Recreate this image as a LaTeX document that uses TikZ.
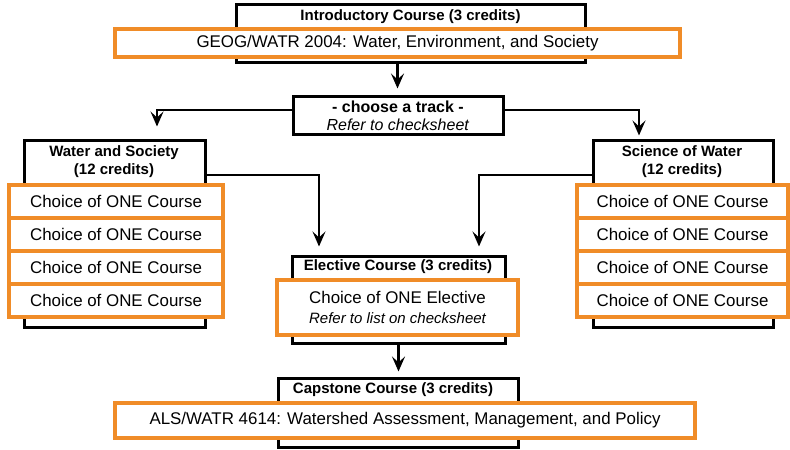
\documentclass[tikz,border=0pt]{standalone}
\usepackage{fontspec}
\setmainfont{Liberation Sans}
\usetikzlibrary{arrows.meta}
\definecolor{orng}{RGB}{240,140,40}
\begin{document}
\begin{tikzpicture}[x=1bp,y=-1bp,
 blackbox/.style={draw=black, line width=3bp, fill=white, inner sep=0pt},
 orangebox/.style={draw=orng, line width=3.5bp, fill=white, inner sep=0pt, font=\fontsize{16.9bp}{20bp}\selectfont, align=center},
 titletext/.style={font=\fontsize{15bp}{18bp}\selectfont\bfseries, align=center, inner sep=0pt},
 arr/.style={line width=2.7bp, -{Stealth[length=15bp,width=13bp,inset=6bp]}}]
\useasboundingbox (0,0) rectangle (790,450);
% intro
\node[blackbox, minimum width=349bp, minimum height=58bp] (intro) at (410.5,34) {};
\node[titletext] (introt) at (410.5,17) {Introductory Course (3 credits)};
\node[orangebox, minimum width=565bp, minimum height=28bp] (introc) at (397.5,43) {GEOG/WATR 2004: Water, Environment, and Society};
% choose
\node[blackbox, minimum width=210bp, minimum height=38bp, align=center, font=\fontsize{16bp}{18bp}\selectfont] (choose) at (398,116) {\textbf{- choose a track -}\\\textit{Refer to checksheet}};
% left track
\node[blackbox, minimum width=180bp, minimum height=186bp] (ws) at (115,234) {};
\node[titletext] (wst) at (114,162) {Water and Society\\(12 credits)};
\foreach \i/\y in {1/201.5,2/234.5,3/267.5,4/300.5}
  \node[orangebox, minimum width=214bp, minimum height=33bp] (ws\i) at (116,\y) {Choice of ONE Course};
% right track
\node[blackbox, minimum width=180bp, minimum height=186bp] (sw) at (683,234) {};
\node[titletext] (swt) at (682,162) {Science of Water\\(12 credits)};
\foreach \i/\y in {1/201.5,2/234.5,3/267.5,4/300.5}
  \node[orangebox, minimum width=211bp, minimum height=33bp] (sw\i) at (682.5,\y) {Choice of ONE Course};
% elective
\node[blackbox, minimum width=213bp, minimum height=86bp] (elec) at (398.5,300) {};
\node[titletext] (elect) at (398,267) {Elective Course (3 credits)};
\node[orangebox, minimum width=241bp, minimum height=55bp] (elecc) at (397.5,307.5) {Choice of ONE Elective\\{\fontsize{15bp}{18bp}\selectfont\itshape Refer to list on checksheet}};
% capstone
\node[blackbox, minimum width=240bp, minimum height=68bp] (cap) at (398,413) {};
\node[titletext] (capt) at (393,390) {Capstone Course (3 credits)};
\node[orangebox, minimum width=580bp, minimum height=35bp] (capc) at (405,420.5) {ALS/WATR 4614: Watershed Assessment, Management, and Policy};
% connectors
\draw[arr, shorten >=7bp] (introc.south |- intro.south) -- (introc.south |- choose.north);
\draw[arr, shorten >=13bp] ([yshift=6bp]choose.west) -| ([xshift=42bp]ws.north);
\draw[arr, shorten >=4bp] ([yshift=6bp]choose.east) -| ([xshift=-44bp]sw.north);
\draw[arr, shorten >=9bp] ([yshift=59bp]ws.east) -| ([xshift=-79.5bp]elec.north);
\draw[arr, shorten >=9bp] ([yshift=59bp]sw.west) -| ([xshift=80.5bp]elec.north);
\draw[arr, shorten >=6bp] (elec.south) -- (elec.south |- cap.north);
\end{tikzpicture}
\end{document}
